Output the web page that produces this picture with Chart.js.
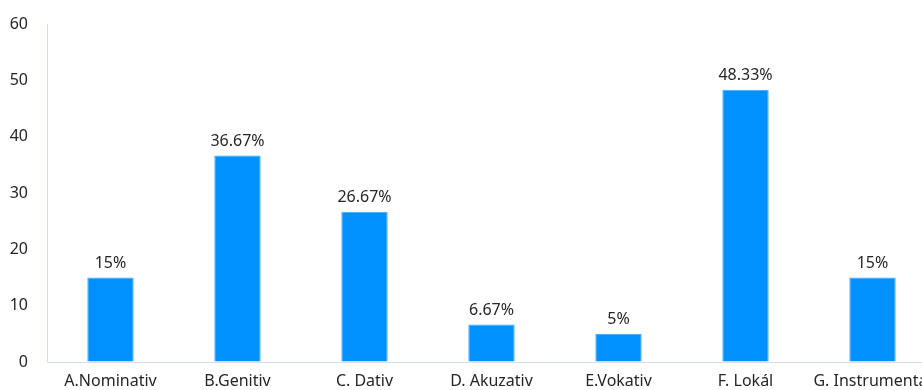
<!DOCTYPE html>
<html>
<head>
<meta charset="utf-8">
<script src="https://cdn.jsdelivr.net/npm/chart.js@4"></script>
<style>
  html, body { margin: 0; padding: 0; background: #fff; overflow: hidden; }
  #wrap { width: 945px; height: 400px; }
</style>
</head>
<body>
<div id="wrap"><canvas id="chart" width="945" height="400"></canvas></div>
<script>
const categories = ['A.Nominativ', 'B.Genitiv', 'C. Dativ', 'D. Akuzativ', 'E.Vokativ', 'F. Lokál', 'G. Instrumentál']
const values = [15, 36.67, 26.67, 6.67, 5, 48.33, 15]
const valueLabels = ['15%', '36.67%', '26.67%', '6.67%', '5%', '48.33%', '15%']
const yTicks = [0, 10, 20, 30, 40, 50, 60]

const fontFamily = '"Noto Sans", "Open Sans", sans-serif'

const barLabels = {
    id: 'barLabels',
    afterDatasetsDraw(chart) {
        const ctx = chart.ctx
        const meta = chart.getDatasetMeta(0)
        ctx.save()
        ctx.font = '16px ' + fontFamily
        ctx.fillStyle = '#262626'
        ctx.textAlign = 'center'
        ctx.textBaseline = 'bottom'
        meta.data.forEach((bar, i) => {
            ctx.fillText(valueLabels[i], bar.x, bar.y - 6)
        })
        ctx.restore()
    }
}

new Chart(document.getElementById('chart'), {
    type: 'bar',
    data: {
        labels: categories,
        datasets: [{
            data: values,
            backgroundColor: '#0091FF',
            borderColor: '#3AA6FF',
            borderWidth: 1,
            barPercentage: 0.365,
            categoryPercentage: 1
        }]
    },
    options: {
        responsive: false,
        animation: false,
        layout: { padding: { top: 24, right: 9, left: 0, bottom: 0 } },
        plugins: { legend: { display: false }, tooltip: { enabled: false } },
        scales: {
            x: {
                grid: { display: false, drawTicks: false },
                border: { display: true, color: '#D6DEF2', width: 1 },
                ticks: {
                    padding: 10,
                    color: '#262626',
                    font: { size: 16, family: fontFamily },
                    maxRotation: 0,
                    autoSkip: false
                },
                afterFit(scale) { scale.height = 38 }
            },
            y: {
                min: 0,
                max: 60,
                afterBuildTicks(scale) { scale.ticks = yTicks.map(v => ({ value: v })) },
                grid: { drawOnChartArea: false, drawTicks: true, tickLength: 19, tickColor: 'transparent' },
                border: { display: true, color: '#D6DEF2', width: 1 },
                ticks: {
                    padding: 0,
                    color: '#262626',
                    font: { size: 16, family: fontFamily }
                },
                afterFit(scale) { scale.width = 47 }
            }
        }
    },
    plugins: [barLabels]
})
</script>
</body>
</html>
